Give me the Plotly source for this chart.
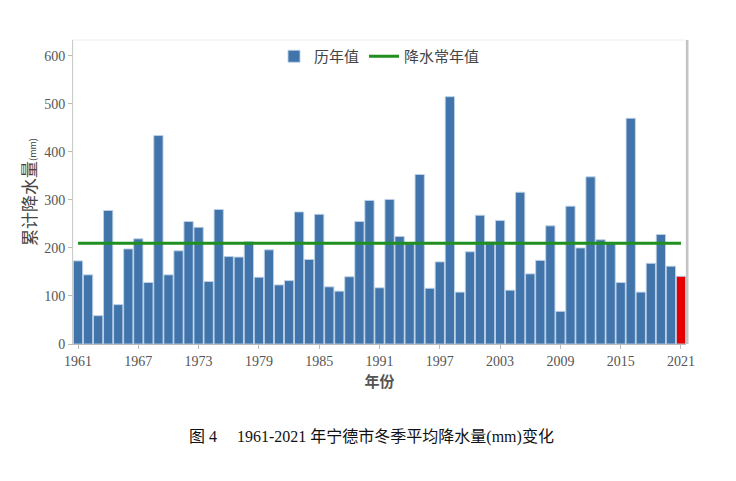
import plotly.graph_objs as go

# 宁德市冬季累计降水量 (mm), 1961-2021
years = list(range(1961, 2022))
rain = [173, 144, 59, 278, 82, 198, 219, 128, 434, 144,
        194, 255, 243, 130, 280, 182, 181, 213, 139, 196,
        123, 132, 275, 176, 270, 119, 110, 140, 255, 299,
        117, 301, 224, 211, 353, 116, 171, 515, 108, 192,
        268, 213, 257, 112, 316, 146, 174, 246, 68, 287,
        200, 348, 217, 211, 128, 470, 108, 168, 228, 162,
        141]
normal = 210
tick_years = list(range(1961, 2022, 6))

bar_colors = ['#4074aa'] * (len(years) - 1) + ['#e50000']

fig = go.Figure()
fig.add_trace(go.Bar(
    x=years, y=rain, name='历年值',
    marker=dict(color=bar_colors, line=dict(color='rgba(190,210,232,0.9)', width=1)),
))
fig.add_trace(go.Scatter(
    x=years, y=[normal] * len(years), mode='lines', name='降水常年值',
    line=dict(color='#1f8f1f', width=3),
))

# page body has an 8px margin, so the plot box is placed 8px up/left of the target
fig.update_layout(
    width=736, height=481,
    margin=dict(l=65, r=58, t=32, b=145),
    paper_bgcolor='white', plot_bgcolor='white',
    bargap=0.08,
    showlegend=True,
    legend=dict(orientation='h', x=0.5, xanchor='center', y=1.0, yanchor='top',
                font=dict(family='Noto Sans CJK SC', size=15, color='#444'),
                bgcolor='rgba(0,0,0,0)', itemwidth=30, tracegroupgap=0),
    font=dict(family='Liberation Serif', color='#555'),
    shapes=[
        dict(type='rect', xref='paper', yref='paper', x0=0, x1=1, y0=0, y1=1,
             line=dict(color='#eeeeee', width=1), layer='below'),
        dict(type='line', xref='paper', yref='paper', x0=1.002, x1=1.002, y0=0, y1=1,
             line=dict(color='#c4c4c4', width=2.5)),
    ],
    annotations=[
        dict(text='图 4\u3000 1961-2021 年宁德市冬季平均降水量(mm)变化',
             xref='paper', yref='paper', x=0.487, y=-0.305, xanchor='center', yanchor='middle',
             showarrow=False, font=dict(family='Liberation Serif, Noto Sans CJK SC', size=16, color='#111')),
    ],
)

fig.update_xaxes(
    range=[1960.5, 2021.5], tickvals=tick_years, automargin=False,
    showgrid=False, zeroline=False,
    showline=True, linecolor='#bbbbbb', linewidth=1,
    ticks='outside', ticklen=4, tickcolor='#bbbbbb',
    tickfont=dict(family='Liberation Serif', size=14, color='#555'),
    title=dict(text='<b>年份</b>', font=dict(family='Noto Sans CJK SC', size=15, color='#555'), standoff=8),
)
fig.update_yaxes(
    range=[0, 633], tickvals=[0, 100, 200, 300, 400, 500, 600], automargin=False,
    showgrid=False, zeroline=False,
    showline=True, linecolor='#cccccc', linewidth=1,
    ticks='outside', ticklen=4, tickcolor='#bbbbbb',
    tickfont=dict(family='Liberation Serif', size=14, color='#555'),
    title=dict(text="累计降水量<span style='font-size:9px'>(mm)</span>",
               font=dict(family='Noto Sans CJK SC', size=17, color='#444'), standoff=3),
)

fig.write_html("out.html")
